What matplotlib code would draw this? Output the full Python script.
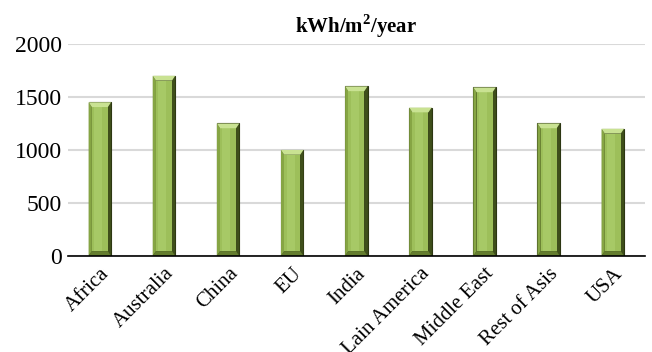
import matplotlib
matplotlib.use("Agg")
import matplotlib.pyplot as plt
from matplotlib import font_manager
import numpy as np

categories = ["Africa", "Australia", "China", "EU", "India", "Lain America",
              "Middle East", "Rest of Asis", "USA"]
values = [1450, 1700, 1250, 1000, 1600, 1400, 1590, 1250, 1200]
yticks = [0, 500, 1000, 1500, 2000]
title = "kWh/m$^\\mathbf{2}$/year"

names = sorted({f.name for f in font_manager.fontManager.ttflist})
serif_choice = None
for cand in ["Times New Roman", "Liberation Serif", "Nimbus Roman", "DejaVu Serif"]:
    if cand in names:
        serif_choice = cand
        break
if serif_choice is None:
    serif_choice = "serif"
plt.rcParams['font.family'] = 'serif'
plt.rcParams['font.serif'] = [serif_choice, 'DejaVu Serif']
plt.rcParams['mathtext.fontset'] = 'custom'
plt.rcParams['mathtext.rm'] = serif_choice
plt.rcParams['mathtext.bf'] = serif_choice + ':bold'

fig = plt.figure(figsize=(6.52, 3.52), dpi=100)
ax = fig.add_axes([0.104, 0.273, 0.885, 0.602])

x = np.arange(len(categories))
w = 0.35
bh = 0.05      # horizontal bevel (data units along x)
bv = 45        # vertical bevel (data units along y)

bars = ax.bar(x, values, width=w, color="#3a4819", edgecolor="#2c3612",
              linewidth=0.8, zorder=3)

for b in bars:
    x0 = b.get_x()
    x1 = x0 + b.get_width()
    h = b.get_height()
    ax.fill([x0, x0 + bh, x0 + bh, x0], [0, bv, h - bv, h],
            color="#86a544", zorder=4, linewidth=0)
    ax.fill([x1, x1 - bh, x1 - bh, x1], [0, bv, h - bv, h],
            color="#3f4f1b", zorder=4, linewidth=0)
    ax.fill([x0 + bh, x1 - bh, x1 - bh, x0 + bh], [bv, bv, h - bv, h - bv],
            color="#9dbf5a", zorder=4, linewidth=0)
    xm0 = x0 + bh + (x1 - x0 - 2 * bh) * 0.15
    xm1 = x1 - bh - (x1 - x0 - 2 * bh) * 0.35
    ax.fill([xm0, xm1, xm1, xm0], [bv, bv, h - bv, h - bv],
            color="#a7c966", zorder=4, linewidth=0)
    ax.fill([x0, x1, x1 - bh, x0 + bh], [h, h, h - bv, h - bv],
            color="#c9e292", zorder=5, linewidth=0)
    ax.fill([x0, x1, x1 - bh, x0 + bh], [0, 0, bv, bv],
            color="#647d2e", zorder=5, linewidth=0)

ax.set_xlim(-0.5, len(categories) - 0.5)
ax.set_ylim(0, 2000)
ax.set_yticks(yticks)
ax.set_yticklabels([str(t) for t in yticks], fontsize=17)
ax.set_xticks(x)
ax.set_xticklabels(categories, rotation=45, ha="right", rotation_mode="anchor",
                   fontsize=15)
ax.tick_params(axis="both", length=0, pad=4)
ax.tick_params(axis="x", pad=6)

ax.grid(axis="y", color="#d9d9d9", linewidth=1.5, zorder=0)
ax.set_axisbelow(True)
for s in ["top", "right", "left"]:
    ax.spines[s].set_visible(False)
ax.spines["bottom"].set_color("black")
ax.spines["bottom"].set_linewidth(1.2)
ax.spines["bottom"].set_zorder(6)

ax.set_title(title, fontsize=15, fontweight="bold", pad=8)

fig.savefig("out.png", dpi=100)
